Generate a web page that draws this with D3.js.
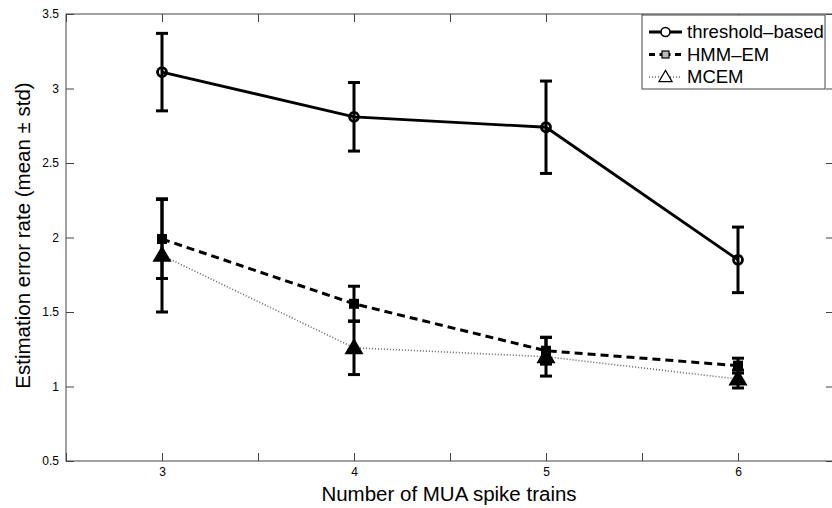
<!DOCTYPE html>
<html>
<head>
<meta charset="utf-8">
<script src="https://cdn.jsdelivr.net/npm/d3@7"></script>
<style>
  body { margin: 0; background: #fff; }
  text { font-family: "Liberation Sans", Arial, sans-serif; fill: #000; }
</style>
</head>
<body>
<svg id="chart" width="832" height="508"></svg>
<script>

// data
let n_trains = [3, 4, 5, 6]
let threshold_mean = [3.11, 2.81, 2.74, 1.85],
    threshold_std = [0.26, 0.23, 0.31, 0.22]
let hmm_mean = [1.99, 1.555, 1.24, 1.14],
    hmm_std = [0.265, 0.118, 0.09, 0.05]
let mcem_mean = [1.88, 1.26, 1.20, 1.05],
    mcem_std = [0.38, 0.18, 0.13, 0.06]
let series_names = ["threshold\u2013based", "HMM\u2013EM", "MCEM"]
let x_ticks = [2.5, 3, 3.5, 4, 4.5, 5, 5.5, 6, 6.5],
    x_labels = [3, 4, 5, 6],
    y_ticks = [0.5, 1, 1.5, 2, 2.5, 3, 3.5]

let width = 832,
    height = 508,
    margins = {top: 14, bottom: 47, left: 66, right: -2}

let svg = d3.select("#chart")

function make_scales() {
  return {
    x: d3.scaleLinear()
         .domain([2.5, 6.5])
         .range([margins.left, width - margins.right]),
    y: d3.scaleLinear()
         .domain([0.5, 3.5])
         .range([height - margins.bottom, margins.top])
  }
}

// one object per series, with style
function build_series() {
  let make = (means, stds) => n_trains.map((x, i) => ({x: x, mean: means[i], std: stds[i]}))
  return [
    {name: series_names[0], data: make(threshold_mean, threshold_std),
     color: "#000", width: 2.8, dash: null, marker: "circle"},
    {name: series_names[1], data: make(hmm_mean, hmm_std),
     color: "#000", width: 3, dash: "8,5", marker: "square"},
    {name: series_names[2], data: make(mcem_mean, mcem_std),
     color: "#666", width: 1.6, dash: "1,2", marker: "triangle"}
  ]
}

function add_axes(scales) {
  let axis_color = "#444",
      tick_len = 8
  let g = svg.append("g").attr("id", "axes")
  let [x0, x1] = scales.x.range(),
      [y0, y1] = scales.y.range()

  // box
  g.append("rect")
    .attr("x", x0).attr("y", y1)
    .attr("width", x1 - x0).attr("height", y0 - y1)
    .attr("fill", "none").attr("stroke", axis_color).attr("stroke-width", 1)

  // x ticks, bottom and top, pointing inward
  let x_axis = d3.axisBottom(scales.x)
    .tickValues(x_ticks)
    .tickSizeInner(-tick_len).tickSizeOuter(0)
    .tickFormat(d => x_labels.includes(d) ? d : "")
  let gx = g.append("g")
    .attr("transform", `translate(0,${y0})`)
    .call(x_axis)
  gx.selectAll("text").attr("dy", "0.3em").attr("y", 11).style("font-size", "12px")
    .attr("font-family", null)

  g.append("g")
    .attr("transform", `translate(0,${y1})`)
    .call(d3.axisTop(scales.x).tickValues(x_ticks).tickSizeInner(-tick_len).tickSizeOuter(0).tickFormat(""))

  let y_axis = d3.axisLeft(scales.y)
    .tickValues(y_ticks)
    .tickSizeInner(-tick_len).tickSizeOuter(0)
    .tickFormat(d3.format("~g"))
  let gy = g.append("g")
    .attr("transform", `translate(${x0},0)`)
    .call(y_axis)
  gy.selectAll("text").attr("x", -7).style("font-size", "12px").attr("font-family", null)

  g.append("g")
    .attr("transform", `translate(${x1},0)`)
    .call(d3.axisRight(scales.y).tickValues(y_ticks).tickSizeInner(-tick_len).tickSizeOuter(0).tickFormat(""))

  g.selectAll(".domain").remove()
  g.selectAll(".tick line").attr("stroke", axis_color)

  // axis titles
  svg.append("text")
    .attr("x", 449).attr("y", 501)
    .attr("text-anchor", "middle")
    .style("font-size", "20.5px")
    .text("Number of MUA spike trains")

  svg.append("text")
    .attr("transform", `translate(30,${(y0 + y1) / 2 - 2}) rotate(-90)`)
    .attr("text-anchor", "middle")
    .style("font-size", "20.5px")
    .text("Estimation error rate (mean \u00b1 std)")
}

function draw_marker(sel, kind, size) {
  if (kind == "circle") {
    sel.append("circle").attr("r", size / 2)
  } else if (kind == "square") {
    sel.append("rect")
      .attr("x", -size / 2).attr("y", -size / 2)
      .attr("width", size).attr("height", size)
  } else {
    let s = size * 0.6
    sel.append("path").attr("d", `M0,${-s}L${s},${s * 0.7}L${-s},${s * 0.7}Z`)
  }
}

function draw_lines(series, scales) {
  let path_generator = d3.line()
    .x(d => scales.x(d.x))
    .y(d => scales.y(d.mean))
  let cap = 6

  // draw bottom layer first so the solid line sits on top
  let layers = svg.append("g").attr("id", "lines")
    .selectAll("g")
    .data(series.slice().reverse()).enter()
    .append("g")

  layers.append("path")
    .attr("d", s => path_generator(s.data))
    .attr("fill", "none")
    .attr("stroke", s => s.color)
    .attr("stroke-width", s => s.width)
    .attr("stroke-dasharray", s => s.dash)

  // error bars
  layers.each(function(s) {
    let bars = d3.select(this).selectAll(".bar")
      .data(s.data).enter()
      .append("g")
      .attr("stroke", "#000").attr("stroke-width", 3)
    bars.append("line")
      .attr("x1", d => scales.x(d.x)).attr("x2", d => scales.x(d.x))
      .attr("y1", d => scales.y(d.mean - d.std)).attr("y2", d => scales.y(d.mean + d.std))
    for (let sign of [-1, 1]) {
      bars.append("line")
        .attr("x1", d => scales.x(d.x) - cap).attr("x2", d => scales.x(d.x) + cap)
        .attr("y1", d => scales.y(d.mean + sign * d.std)).attr("y2", d => scales.y(d.mean + sign * d.std))
    }

    let markers = d3.select(this).selectAll(".mk")
      .data(s.data).enter()
      .append("g")
      .attr("transform", d => `translate(${scales.x(d.x)},${scales.y(d.mean)})`)
      .attr("fill", s.marker == "circle" ? "none" : "#000")
      .attr("stroke", "#000").attr("stroke-width", s.marker == "circle" ? 2.8 : 2)
    draw_marker(markers, s.marker, s.marker == "circle" ? 9 : (s.marker == "square" ? 8 : 13))
  })
}

function add_legend(series) {
  let g = svg.append("g").attr("id", "legend")
  g.append("rect")
    .attr("x", 642).attr("y", 15).attr("width", 183).attr("height", 74)
    .attr("fill", "#fff").attr("stroke", "#444").attr("stroke-width", 1)

  let rows = g.selectAll(".row")
    .data(series).enter()
    .append("g")
    .attr("transform", (s, i) => `translate(649,${32 + i * 22.5})`)

  rows.append("line")
    .attr("x1", 0).attr("x2", 33)
    .attr("stroke", s => s.color)
    .attr("stroke-width", s => s.width)
    .attr("stroke-dasharray", (s, i) => i == 1 ? "6,4.5,11,4.5,6" : s.dash)

  rows.each(function(s) {
    let m = d3.select(this).append("g")
      .attr("transform", "translate(16.5,0)")
      .attr("fill", s.marker == "square" ? "#bbb" : "#fff")
      .attr("stroke", "#000").attr("stroke-width", s.marker == "circle" ? 1.6 : 1.2)
    draw_marker(m, s.marker, s.marker == "circle" ? 9 : (s.marker == "square" ? 7 : 11))
  })

  rows.append("text")
    .attr("x", 38).attr("dy", "0.35em")
    .style("font-size", "18.5px")
    .text(s => s.name)
}

function visualize() {
  let scales = make_scales()
  let series = build_series()
  add_axes(scales)
  draw_lines(series, scales)
  add_legend(series)
}

visualize()
</script>
</body>
</html>
